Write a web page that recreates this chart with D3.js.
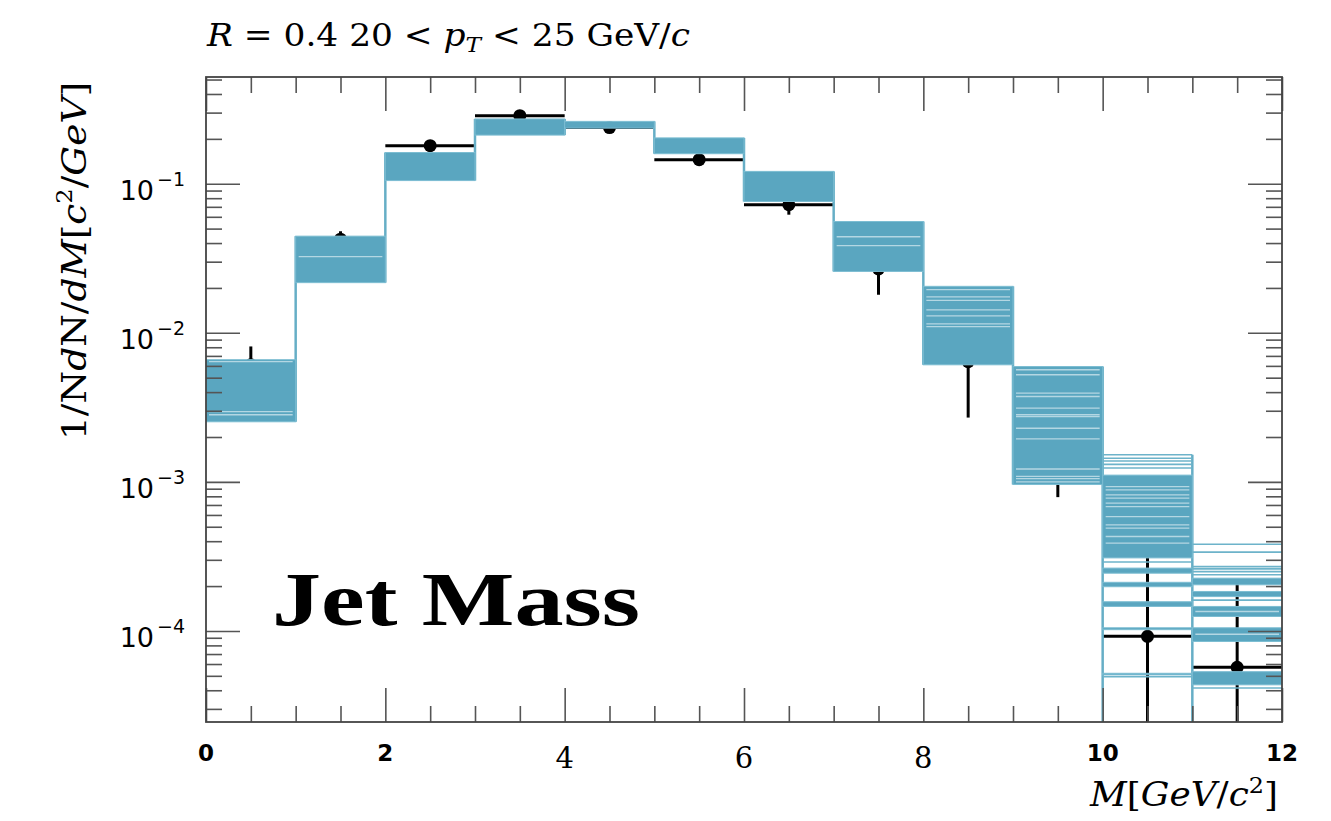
<!DOCTYPE html>
<meta charset="utf-8">
<style>
body { margin: 0; background: #fff; }
</style>
<svg width="1331" height="821"></svg>
<script src="https://d3js.org/d3.v7.min.js"></script>
<script>

// bins of jet mass M [GeV/c^2]
var binEdges = [0, 1, 2, 3, 4, 5, 6, 7, 8, 9, 10, 11, 12];

// measured points (black)
var dataVal  = [0.0061, 0.0425, 0.18, 0.286, 0.238, 0.145, 0.0723, 0.0268, 0.0064, 0.00149, 9.2e-5, 5.7e-5];
var dataUp   = [0.0081, 0.048, 0.19, 0.30, 0.245, 0.152, 0.076, 0.028, 0.0075, 0.0020, 4.9e-4, 2.1e-4];
var dataDown = [0.0048, 0.040, 0.17, 0.272, 0.231, 0.138, 0.062, 0.018, 0.0027, 0.00079, 1e-6, 1e-6];

// model ensemble (blue): dense ranges, single curves and the light gaps between curves
var modelDense = [
  [[0.00253, 0.0066]],
  [[0.0217, 0.0445]],
  [[0.105, 0.162]],
  [[0.212, 0.272]],
  [[0.236, 0.262]],
  [[0.159, 0.203]],
  [[0.076, 0.121]],
  [[0.0258, 0.0558]],
  [[0.0061, 0.0205]],
  [[0.00096, 0.00594]],
  [[3.09e-4, 1.11e-3], [2.44e-4, 2.64e-4], [1.98e-4, 2.12e-4], [1.46e-4, 1.57e-4], [1.02e-4, 1.05e-4], [5.07e-5, 5.2e-5]],
  [[2.04e-4, 2.26e-4], [1.70e-4, 1.84e-4], [1.25e-4, 1.46e-4], [8.5e-5, 1.05e-4], [4.35e-5, 5.33e-5]]
];
var modelThin = [
  [], [], [], [], [], [], [], [], [], [],
  [1.52e-3, 1.44e-3, 1.38e-3, 1.31e-3, 1.24e-3, 2.9e-4, 4.93e-5, 1e-6],
  [3.82e-4, 3.38e-4, 2.70e-4, 2.61e-4, 2.50e-4, 2.38e-4, 1.61e-4, 4.14e-5]
];
var modelGaps = [
  [0.0064, 0.00296, 0.00282],
  [0.0324],
  [],
  [],
  [],
  [],
  [],
  [0.0441, 0.0385],
  [0.0195, 0.0174, 0.0165, 0.01427, 0.0130, 0.01149, 0.0110],
  [0.00565, 0.00523, 0.00394, 0.00374, 0.00312, 0.00282, 0.00274, 0.00229, 0.00194, 0.00122, 0.00109, 0.00105, 0.00100],
  [9.3e-4, 8.83e-4, 8.18e-4, 7.78e-4, 7.2e-4, 6.83e-4, 5.85e-4, 5.14e-4, 4.89e-4, 4.3e-4, 3.88e-4],
  [1.35e-4, 9.5e-5]
];

var xTickLabels = [0, 2, 4, 6, 8, 10, 12];
var yDecades = [1e-1, 1e-2, 1e-3, 1e-4];

var svg = d3.select("svg"),
    margin = {top: 77, right: 49, bottom: 99, left: 206},
    width = +svg.attr("width") - margin.left - margin.right,
    height = +svg.attr("height") - margin.top - margin.bottom;

var blue = "#5aa6c0";

var x = d3.scaleLinear().domain([0, 12]).range([0, width]);
var y = d3.scaleLog().domain([2.45e-5, 0.52]).range([height, 0]);

var g = svg.append("g").attr("transform", "translate(" + margin.left + "," + margin.top + ")");

g.append("clipPath").attr("id", "plot")
  .append("rect").attr("width", width).attr("height", height);

var plot = g.append("g").attr("clip-path", "url(#plot)");

var bins = d3.range(dataVal.length);

// data: horizontal bars, error bars, markers
var pts = plot.append("g").attr("class", "data");
pts.selectAll("line.h").data(bins).enter().append("line")
    .attr("x1", function(i) { return x(binEdges[i]); })
    .attr("x2", function(i) { return x(binEdges[i + 1]); })
    .attr("y1", function(i) { return y(dataVal[i]); })
    .attr("y2", function(i) { return y(dataVal[i]); })
    .attr("stroke", "#000").attr("stroke-width", 3);
pts.selectAll("line.v").data(bins).enter().append("line")
    .attr("x1", function(i) { return x((binEdges[i] + binEdges[i + 1]) / 2); })
    .attr("x2", function(i) { return x((binEdges[i] + binEdges[i + 1]) / 2); })
    .attr("y1", function(i) { return y(dataUp[i]); })
    .attr("y2", function(i) { return y(dataDown[i]); })
    .attr("stroke", "#000").attr("stroke-width", 3);
pts.selectAll("circle").data(bins).enter().append("circle")
    .attr("cx", function(i) { return x((binEdges[i] + binEdges[i + 1]) / 2); })
    .attr("cy", function(i) { return y(dataVal[i]); })
    .attr("r", 6.5)
    .attr("fill", "#000");

// model band
var model = plot.append("g").attr("class", "model");

// vertical steps between bins
var edgeIdx = d3.range(1, binEdges.length - 1);
function binValues(i) {
  var v = modelThin[i].slice();
  modelDense[i].forEach(function(r) { v.push(r[0], r[1]); });
  return v;
}
model.selectAll("line.step").data(edgeIdx).enter().append("line")
    .attr("x1", function(j) { return x(binEdges[j]); })
    .attr("x2", function(j) { return x(binEdges[j]); })
    .attr("y1", function(j) { return y(d3.max(binValues(j - 1).concat(binValues(j)))); })
    .attr("y2", function(j) { return Math.min(height + 5, y(d3.min(binValues(j - 1).concat(binValues(j))))); })
    .attr("stroke", "#66aec6").attr("stroke-width", 2.5);

bins.forEach(function(i) {
  var x0 = x(binEdges[i]), x1 = x(binEdges[i + 1]);
  model.selectAll(null).data(modelDense[i]).enter().append("rect")
      .attr("x", x0)
      .attr("width", x1 - x0)
      .attr("y", function(r) { return y(r[1]); })
      .attr("height", function(r) { return Math.max(1.5, y(r[0]) - y(r[1])); })
      .attr("fill", blue)
      .attr("stroke", "#7cbdd2")
      .attr("stroke-width", 1);
  model.selectAll(null).data(modelThin[i]).enter().append("line")
      .attr("x1", x0).attr("x2", x1)
      .attr("y1", function(v) { return y(v); })
      .attr("y2", function(v) { return y(v); })
      .attr("stroke", "#6db3ca").attr("stroke-width", 1.6);
  model.selectAll(null).data(modelGaps[i]).enter().append("line")
      .attr("x1", x0 + 3).attr("x2", x1 - 3)
      .attr("y1", function(v) { return y(v); })
      .attr("y2", function(v) { return y(v); })
      .attr("stroke", "#fff").attr("stroke-opacity", 0.55).attr("stroke-width", 1.3);
});

// axes with inner ticks
var xTicks = d3.range(0, 12.001, 0.5);
var yTicks = [];
d3.range(-5, 0).forEach(function(k) {
  d3.range(1, 10).forEach(function(m) {
    var v = m * Math.pow(10, k);
    if (v >= y.domain()[0] && v <= y.domain()[1]) yTicks.push(v);
  });
});
function isMajorX(v) { return v % 2 === 0; }
function isMajorY(v) { return yDecades.some(function(d) { return Math.abs(v - d) / d < 1e-6; }); }

function styleAxis(sel, major, attr, sign) {
  sel.select(".domain").remove();
  sel.selectAll(".tick text").remove();
  sel.selectAll(".tick line")
      .attr(attr, function(d) { return sign * (major(d) ? 34 : 16); })
      .attr("stroke", "#555").attr("stroke-width", 1.6);
}

g.append("g").call(d3.axisBottom(x).tickValues(xTicks))
    .call(styleAxis, isMajorX, "y2", 1);
g.append("g").attr("transform", "translate(0," + height + ")")
    .call(d3.axisTop(x).tickValues(xTicks))
    .call(styleAxis, isMajorX, "y2", -1);
g.append("g").call(d3.axisRight(y).tickValues(yTicks))
    .call(styleAxis, isMajorY, "x2", 1);
g.append("g").attr("transform", "translate(" + width + ",0)")
    .call(d3.axisLeft(y).tickValues(yTicks))
    .call(styleAxis, isMajorY, "x2", -1);

g.append("rect")
    .attr("width", width).attr("height", height)
    .attr("fill", "none").attr("stroke", "#444").attr("stroke-width", 1.8);

var serif = "'DejaVu Serif', 'Liberation Serif', serif";

// tick labels
var xl = g.append("g").attr("class", "xlabels");
xl.selectAll("text").data(xTickLabels).enter().append("text")
    .attr("x", function(d) { return x(d); })
    .attr("y", function(d) { return d >= 4 && d <= 8 ? height + 46 : height + 39; })
    .attr("text-anchor", "middle")
    .style("font-family", function(d) { return d >= 4 && d <= 8 ? serif : "'DejaVu Sans', sans-serif"; })
    .style("font-size", function(d) { return d >= 4 && d <= 8 ? "29px" : "23px"; })
    .style("font-weight", function(d) { return d >= 4 && d <= 8 ? "normal" : "bold"; })
    .text(function(d) { return d; });

var yl = g.append("g").attr("class", "ylabels");
var ylt = yl.selectAll("text").data(yDecades).enter().append("text")
    .attr("x", -21)
    .attr("y", function(d) { return y(d) + 16; })
    .attr("text-anchor", "end")
    .style("font-family", "'DejaVu Sans', sans-serif")
    .style("font-size", "27px");
ylt.append("tspan").text("10");
ylt.append("tspan").attr("dy", -14).attr("dx", 3).style("font-size", "19px")
    .text(function(d) { return "\u2212" + Math.round(-Math.log10(d)); });

// titles
var title = svg.append("text").attr("x", 207).attr("y", 46)
    .attr("textLength", 483).attr("lengthAdjust", "spacingAndGlyphs")
    .style("font-family", serif).style("font-size", "31px");
title.append("tspan").style("font-style", "italic").text("R");
title.append("tspan").text(" = 0.4 20 < ");
title.append("tspan").style("font-style", "italic").text("p");
title.append("tspan").style("font-style", "italic").style("font-size", "21px").attr("dy", 6).text("T");
title.append("tspan").attr("dy", -6).text(" < 25 GeV/");
title.append("tspan").style("font-style", "italic").text("c");

var ylab = svg.append("text")
    .attr("transform", "translate(86,261) rotate(-90)")
    .attr("text-anchor", "middle")
    .attr("textLength", 358).attr("lengthAdjust", "spacingAndGlyphs")
    .style("font-family", serif).style("font-size", "34px");
ylab.append("tspan").text("1/N");
ylab.append("tspan").style("font-style", "italic").text("d");
ylab.append("tspan").text("N/");
ylab.append("tspan").style("font-style", "italic").text("dM");
ylab.append("tspan").text("[");
ylab.append("tspan").style("font-style", "italic").text("c");
ylab.append("tspan").attr("dy", -14).style("font-size", "22px").text("2");
ylab.append("tspan").attr("dy", 14).text("/");
ylab.append("tspan").style("font-style", "italic").text("GeV");
ylab.append("tspan").text("]");

var xlab = svg.append("text")
    .attr("x", 1278).attr("y", 806)
    .attr("text-anchor", "end")
    .attr("textLength", 188).attr("lengthAdjust", "spacingAndGlyphs")
    .style("font-family", serif).style("font-size", "33px");
xlab.append("tspan").style("font-style", "italic").text("M");
xlab.append("tspan").text("[");
xlab.append("tspan").style("font-style", "italic").text("GeV");
xlab.append("tspan").text("/");
xlab.append("tspan").style("font-style", "italic").text("c");
xlab.append("tspan").attr("dy", -13).style("font-size", "22px").text("2");
xlab.append("tspan").attr("dy", 13).text("]");

svg.append("text")
    .attr("x", 272).attr("y", 625)
    .attr("textLength", 368).attr("lengthAdjust", "spacingAndGlyphs")
    .style("font-family", "'Liberation Serif', serif").style("font-weight", "bold").style("font-size", "76px")
    .text("Jet Mass");

</script>
